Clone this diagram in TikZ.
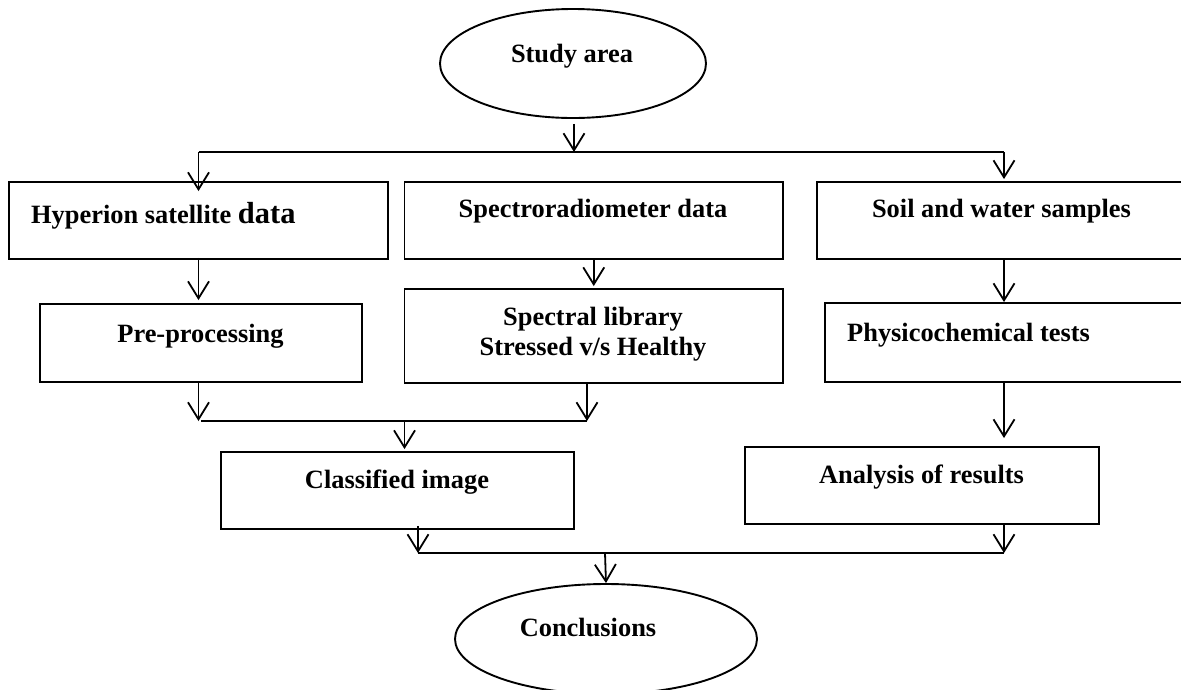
\documentclass[tikz,border=0pt]{standalone}
\usepackage{fontspec}
\setmainfont{Liberation Serif}
\usetikzlibrary{arrows.meta,shapes.geometric}
\begin{document}
\begin{tikzpicture}[x=1pt,y=-1pt,
  box/.style={draw=black, line width=1.9pt, rectangle, inner sep=0pt},
  oval/.style={draw=black, line width=1.9pt, ellipse, inner sep=0pt},
  txt/.style={inner sep=0pt, anchor=base, font=\fontsize{26.4}{31}\selectfont\bfseries},
  arr/.style={line width=1.8pt, -{Straight Barb[length=17pt,width=21pt,line width=1.8pt]}},
  ln/.style={line width=1.8pt}]
\useasboundingbox (0,0) rectangle (1181,689);
\clip (0,0) rectangle (1181,689);
\fill[white] (0,0) rectangle (1181,689);
% shapes
\node[oval, minimum width=266pt, minimum height=109pt] (sa) at (573,63.5) {};
\node[box, minimum width=379pt, minimum height=77pt] (hyp) at (198.5,220.5) {};
\node[box, minimum width=378.5pt, minimum height=77pt] (spec) at (593.75,220.5) {};
\node[box, minimum width=374pt, minimum height=77pt] (soil) at (1004,220.5) {};
\node[box, minimum width=322pt, minimum height=78pt] (pre) at (201,343) {};
\node[box, minimum width=378.5pt, minimum height=94pt] (lib) at (593.75,336) {};
\node[box, minimum width=358pt, minimum height=79pt] (phys) at (1004,342.5) {};
\node[box, minimum width=353pt, minimum height=77pt] (cls) at (397.5,490.5) {};
\node[box, minimum width=354pt, minimum height=77pt] (ana) at (922,485.5) {};
\node[oval, minimum width=302pt, minimum height=110pt] (con) at (606,639) {};
% texts
\node[txt] (tsa) at (572,62) {Study area};
\node[txt, anchor=base west] (thyp) at (31,223) {Hyperion satellite {\fontsize{30.5}{34}\selectfont data}};
\node[txt] (tspec) at (593,217) {Spectroradiometer data};
\node[txt] (tsoil) at (1001.5,217) {Soil and water samples};
\node[txt] (tpre) at (200.5,342) {Pre-processing};
\node[txt] (tlib1) at (593,325) {Spectral library};
\node[txt] (tlib2) at (593,355) {Stressed v/s Healthy};
\node[txt, anchor=base west] (tphys) at (847,341) {Physicochemical tests};
\node[txt] (tcls) at (397,488) {Classified image};
\node[txt] (tana) at (921.5,483) {Analysis of results};
\node[txt] (tcon) at (588,636) {Conclusions};
% junction coordinates
\coordinate (j1) at (574,152);
\coordinate (j2) at (404.5,421);
\coordinate (j3) at (605,553);
% top split
\draw[arr] ([yshift=-5pt]sa.south -| j1) -- (j1);
\draw[ln] (j1 -| hyp.north) -- (j1 -| soil.north);
\draw[arr] (j1 -| hyp.north) -- ([yshift=-10pt]hyp.north);
\draw[arr] (j1 -| soil.north) -- ([yshift=2pt]soil.north);
% row 1 to row 2
\draw[arr] ([yshift=2pt]hyp.south) -- ([yshift=3pt]hyp.south |- pre.north);
\draw[arr] (spec.south) -- ([yshift=2pt]spec.south |- lib.north);
\draw[arr] (soil.south) -- (soil.south |- phys.north);
% merge to classified
\draw[arr] (pre.south -| hyp.south) -- (j2 -| hyp.south);
\draw[arr] (lib.south -| 587,0) -- (j2 -| 587,0);
\draw[ln] (j2 -| 201,0) -- (j2 -| 587,0);
\draw[arr] (j2) -- ([yshift=2pt]j2 |- cls.north);
% phys to analysis
\draw[arr] (phys.south) -- ([yshift=8pt]phys.south |- ana.north);
% merge to conclusions
\draw[arr] ([yshift=4pt]cls.south -| 418,0) -- (j3 -| 418,0);
\draw[arr] (ana.south -| phys.south) -- (j3 -| phys.south);
\draw[ln] (j3 -| 418,0) -- (j3 -| phys.south);
\draw[arr] (j3) -- (con.north);
\end{tikzpicture}
\end{document}
